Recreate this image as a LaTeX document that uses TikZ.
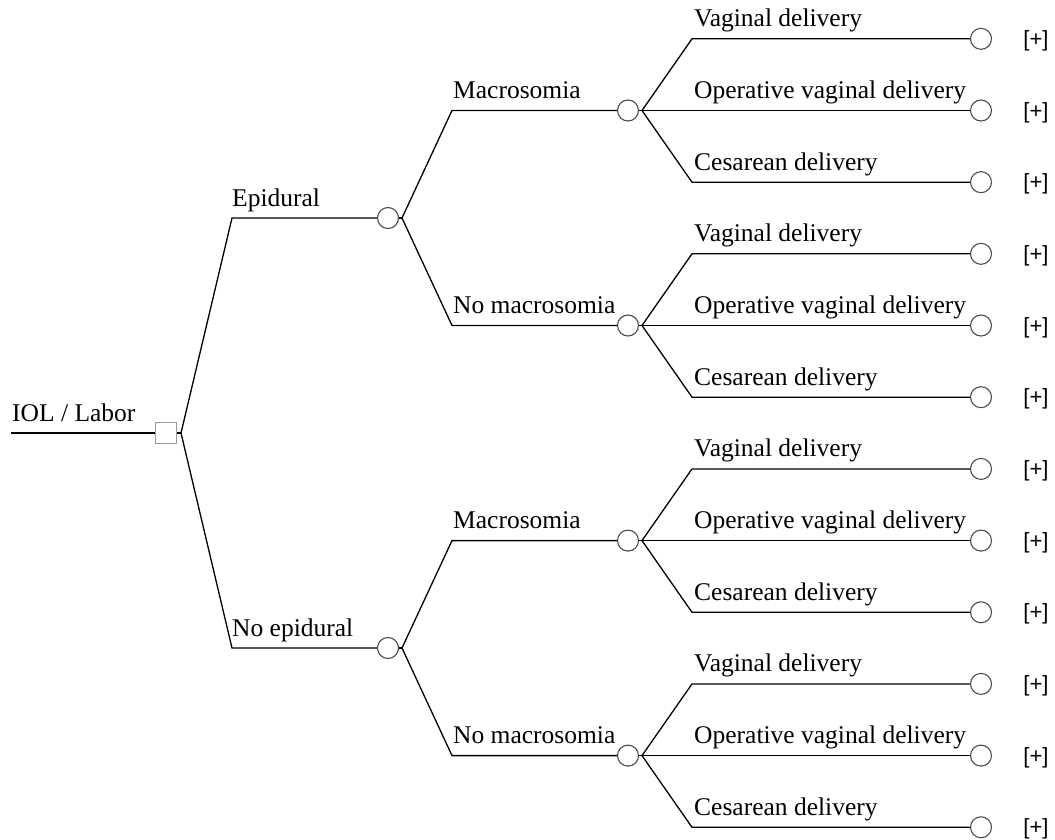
\documentclass[tikz,border=0pt]{standalone}
\usepackage{fontspec}
\setmainfont{Liberation Serif}
\newfontfamily\plusfont{Liberation Sans}
\begin{document}
\begin{tikzpicture}[x=1pt,y=-1pt,
  edge/.style={line width=1.3pt,black},
  chance/.style={circle,draw=black!70,line width=1.1pt,fill=white,minimum size=21pt,inner sep=0pt},
  decision/.style={rectangle,draw=black!40,line width=1.6pt,fill=white,minimum size=21pt,inner sep=0pt},
  lbl/.style={anchor=base west,inner sep=0pt,font=\fontsize{25.5}{30}\selectfont},
  plus/.style={anchor=center,inner sep=0pt,font=\plusfont\fontsize{22}{26}\selectfont}]
\useasboundingbox (0,0) rectangle (1055,840);
% root
\coordinate (start) at (11,433);
\node[decision] (root) at (166,433) {};
\draw[edge] (start) -- (root.west);
\node[lbl] (lroot) at (12,421) {IOL / Labor};
\coordinate (f0) at (181,433);
\draw[edge] (root.east) -- (f0);
% epidural
\coordinate (kE) at (232,218);
\node[chance] (cE) at (388,218) {};
\draw[edge] (f0) -- (kE) -- (cE.west);
\node[lbl] (lE) at (232,206) {Epidural};
\coordinate (fE) at (402,218);
\draw[edge] (cE.east) -- (fE);
% no epidural
\coordinate (kN) at (232,648);
\node[chance] (cN) at (388,648) {};
\draw[edge] (f0) -- (kN) -- (cN.west);
\node[lbl] (lN) at (232,636) {No epidural};
\coordinate (fN) at (402,648);
\draw[edge] (cN.east) -- (fN);
% second level and leaves
\foreach \g/\yy/\src/\txt in {1/110.5/fE/Macrosomia,2/325.5/fE/No macrosomia,3/540.6/fN/Macrosomia,4/755.6/fN/No macrosomia}{
  \coordinate (k\g) at (452,\yy);
  \node[chance] (c\g) at (628,\yy) {};
  \draw[edge] (\src) -- (k\g) -- (c\g.west);
  \node[lbl] (l\g) at (453,\yy-12) {\txt};
  \coordinate (f\g) at (642,\yy);
  \draw[edge] (c\g.east) -- (f\g);
  \foreach \j/\lt in {1/Vaginal delivery,2/Operative vaginal delivery,3/Cesarean delivery}{
    \pgfmathsetmacro\ly{\yy+71.68*(\j-2)}
    \coordinate (k\g\j) at (692,\ly);
    \node[chance] (e\g\j) at (981,\ly) {};
    \draw[edge] (f\g) -- (k\g\j) -- (e\g\j.west);
    \node[lbl] (t\g\j) at (694,\ly-12) {\lt};
    \node[plus] (p\g\j) at (1036,\ly+2) {[+]};
  }
}
\end{tikzpicture}
\end{document}
